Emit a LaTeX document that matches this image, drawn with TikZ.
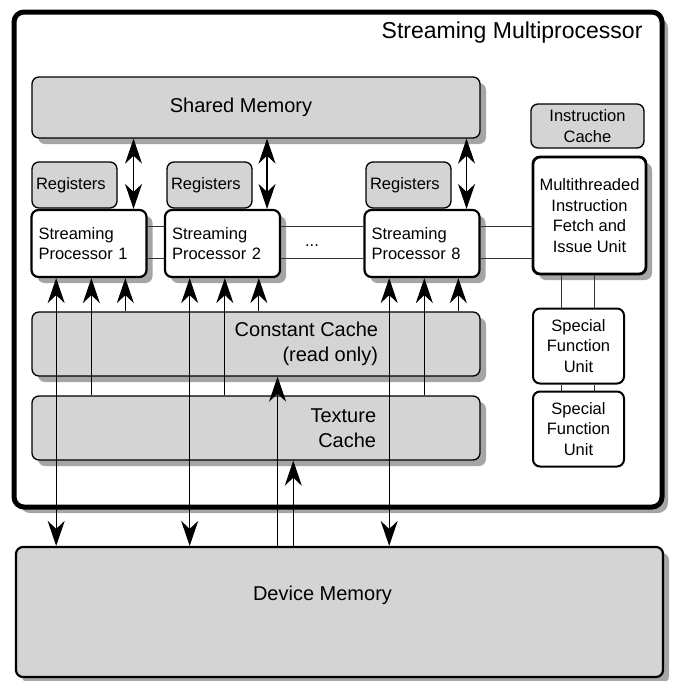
\documentclass[tikz,border=0pt]{standalone}
\usepackage{fontspec}
\setmainfont{Liberation Sans}
\usetikzlibrary{positioning,arrows.meta,calc,shadows}

\definecolor{boxgray}{RGB}{212,212,212}
\definecolor{shadowgray}{RGB}{165,165,165}

\begin{document}
\begin{tikzpicture}[
  x=1pt, y=-1pt,
  >={Stealth[length=25pt, width=17pt, inset=8pt]},
  smalltxt/.style={font=\fontsize{16.5}{20.5}\selectfont},
  bigtxt/.style={font=\fontsize{20}{25}\selectfont},
  box/.style={
    rectangle, rounded corners=7pt, draw=black, line width=1.3pt,
    fill=boxgray, smalltxt, inner sep=0pt
  },
  shadowed/.style={drop shadow={shadow xshift=6pt, shadow yshift=-6pt, fill=shadowgray, opacity=1}},
  regbox/.style={box, minimum width=85pt, minimum height=46pt, text width=77pt, inner xsep=4pt, align=left},
  procbox/.style={box, shadowed, fill=white, line width=2.2pt, minimum width=115pt, minimum height=67pt,
    text width=101pt, inner xsep=7pt, align=left},
  sfubox/.style={box, fill=white, line width=2pt, minimum width=91pt, minimum height=75pt, align=center},
  cachebox/.style={box, shadowed, minimum width=448pt, minimum height=64pt},
  arr/.style={->, line width=1.1pt},
  dbl/.style={<->, line width=1.1pt},
  link/.style={line width=0.9pt, black!80}
]
\useasboundingbox (0,0) rectangle (674,681);

% === Streaming multiprocessor frame ===
\node[rectangle, rounded corners=10pt, draw=black, line width=5pt, fill=white, shadowed,
  minimum width=648pt, minimum height=495pt] (sm) at (338,259.5) {};
\node[font=\fontsize{23}{27}\selectfont, anchor=east] (smtitle) at (646,33) {Streaming Multiprocessor};

% === Memories and caches ===
\node[box, shadowed, minimum width=448pt, minimum height=61pt,
  label={[bigtxt, xshift=-15pt]center:Shared Memory}] (shm) at (256,107.5) {};

\node[cachebox, label={[bigtxt, anchor=east, align=right, xshift=-99pt]east:Constant Cache\\(read only)}] (cc) at (256,344) {};
\node[cachebox, label={[bigtxt, anchor=east, align=right, xshift=-101pt]east:Texture\\Cache}] (tc) at (256,428) {};

\node[box, shadowed, line width=2.2pt, minimum width=647pt, minimum height=130pt,
  label={[bigtxt, xshift=-17pt, yshift=17pt]center:Device Memory}] (dm) at (339.5,612) {};

% === Registers and processors ===
\node[regbox] (reg1) at (74.5,185) {Registers};
\node[regbox] (reg2) at (209.5,185) {Registers};
\node[regbox] (reg8) at (408.5,185) {Registers};

\node[procbox] (sp1) at (89,243.5) {Streaming\\Processor 1};
\node[procbox] (sp2) at (222.5,243.5) {Streaming\\Processor 2};
\node[procbox] (sp8) at (422,243.5) {Streaming\\Processor 8};
\node[smalltxt] (dots) at (312,246) {...};

% === Instruction unit ===
\node[box, minimum width=113pt, minimum height=44pt, align=center] (ic) at (587.5,126) {Instruction\\Cache};
\node[box, shadowed, fill=white, line width=2.8pt, minimum width=113pt, minimum height=117pt,
  align=center] (mt) at (589.5,215.5) {Multithreaded\\Instruction\\Fetch and\\Issue Unit};
\node[sfubox] (sfu1) at (578.5,346) {Special\\Function\\Unit};
\node[sfubox] (sfu2) at (578.5,429) {Special\\Function\\Unit};

% === Connections ===
% processor links
\foreach \f in {0.25,0.72}{
  \coordinate (h) at ($(sp1.north east)!\f!(sp1.south east)$);
  \draw[link] (h) -- (h -| sp2.west);
  \draw[link] (h -| sp2.east) -- (h -| sp8.west);
  \draw[link] (h -| sp8.east) -- (h -| mt.west);
}

% instruction unit to special function units
\foreach \f in {0.32,0.67}{
  \coordinate (v) at ($(sfu1.north west)!\f!(sfu1.north east)$);
  \draw[link] (v) -- (v |- mt.south);
  \draw[link] (v |- sfu1.south) -- (v |- sfu2.north);
}

% shared memory and caches to processors
\foreach \p in {sp1,sp2,sp8}{
  \coordinate (\p-s) at ($(\p.north west)!0.88!(\p.north east)$);
  \coordinate (\p-d) at ($(\p.south west)!0.22!(\p.south east)$);
  \coordinate (\p-t) at ($(\p.south west)!0.52!(\p.south east)$);
  \coordinate (\p-c) at ($(\p.south west)!0.81!(\p.south east)$);
  \draw[dbl] (\p-s) -- (\p-s |- shm.south);
  \draw[dbl] (\p-d |- dm.north) -- (\p-d);
  \draw[arr] (\p-t |- tc.north) -- (\p-t);
  \draw[arr] (\p-c |- cc.north) -- (\p-c);
}

% device memory to caches
\coordinate (cin) at ($(cc.south west)!0.548!(cc.south east)$);
\coordinate (tin) at ($(tc.south west)!0.583!(tc.south east)$);
\draw[arr] (cin |- dm.north) -- (cin);
\draw[arr] (tin |- dm.north) -- (tin);

\end{tikzpicture}
\end{document}
